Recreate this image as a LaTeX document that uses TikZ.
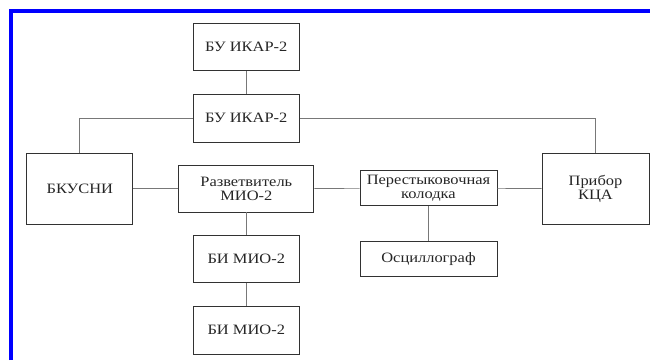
\documentclass[tikz,border=0pt]{standalone}
\usepackage{fontspec}
\setmainfont{Liberation Serif}[FakeStretch=1.15]
\definecolor{boxline}{RGB}{50,50,50}
\definecolor{wireline}{RGB}{120,120,120}
\definecolor{frameblue}{RGB}{0,0,255}

\begin{document}
\begin{tikzpicture}[x=1pt,y=-1pt,
	block/.style={draw=boxline,line width=0.9pt,rectangle,inner sep=1pt,
		align=center,text=black!85,font=\fontsize{14.3}{14}\selectfont},
	wire/.style={draw=wireline,line width=0.7pt}]
	\useasboundingbox (0,0) rectangle (650,360);
	\fill[white] (0,0) rectangle (650,360);
	\draw[frameblue,line width=4pt] (11,360)--(11,10.5)--(650,10.5);
	\node[block,minimum width=106,minimum height=47] (ikarA) at(246.3,47){БУ ИКАР-2};
	\node[block,minimum width=106,minimum height=48] (ikarB) at(246.3,118){БУ ИКАР-2};
	\node[block,minimum width=106,minimum height=71] (bkusni) at(79.8,188.5){БКУСНИ};
	\node[block,minimum width=135,minimum height=47] (razv) at(246.3,188.5){Разветвитель\\МИО-2};
	\node[block,minimum width=137,minimum height=35] (perest) at(428.5,188.3){Перестыковочная\\колодка};
	\node[block,minimum width=107,minimum height=71] (kca) at(595.5,188.5){Прибор\\КЦА};
	\node[block,minimum width=137,minimum height=35] (osc) at(428.5,259){Осциллограф};
	\node[block,minimum width=106,minimum height=47] (biA) at(246.3,258.7){БИ МИО-2};
	\node[block,minimum width=106,minimum height=48] (biB) at(246.3,330){БИ МИО-2};
	\draw[wire] (ikarA)--(ikarB);
	\draw[wire] (ikarB.west)-|(bkusni.north);
	\draw[wire] (ikarB.east)-|(kca.north);
	\draw[wire] (bkusni)--(razv);
	\draw[wire] (razv)--(perest);
	\draw[wire] (perest)--(kca);
	\draw[wire] (razv)--(biA);
	\draw[wire] (biA)--(biB);
	\draw[wire] (perest)--(osc);
\end{tikzpicture}
\end{document}
